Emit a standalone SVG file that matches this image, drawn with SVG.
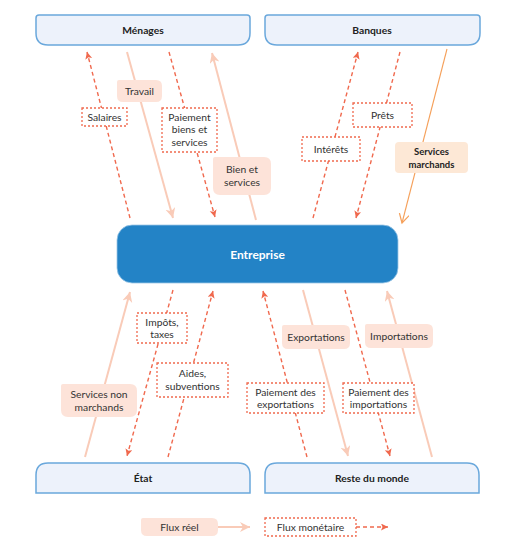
<svg xmlns="http://www.w3.org/2000/svg" width="511" height="557" viewBox="0 0 511 557">
<style>
text{font-family:Lato,"Liberation Sans",sans-serif;fill:#333;font-size:10.3px;text-anchor:middle}
.nb{font-weight:bold;fill:#222;font-size:10.3px}
.node{fill:#edf2fb;stroke:#6aa8dc;stroke-width:1.5}
.real{stroke:#f9cbb8;stroke-width:2;fill:none}
.mon{stroke:#f0694e;stroke-width:1.4;stroke-dasharray:4 3;fill:none}
.rl{fill:#fde3d9}
.ml{fill:#fff;stroke:#f0694e;stroke-width:1.3;stroke-dasharray:2 2}
</style>
<defs>
<marker id="am" markerUnits="userSpaceOnUse" markerWidth="8" markerHeight="8" refX="7" refY="3.5" orient="auto"><path d="M0,0 L7,3.5 L0,7 L1.5,3.5 z" fill="#f0694e"/></marker>
<marker id="ar" markerUnits="userSpaceOnUse" markerWidth="12" markerHeight="12" refX="10" refY="5" orient="auto"><path d="M0,0 L10,5 L0,10 L3,5 z" fill="#f9cbb8"/></marker>
<marker id="ao" markerUnits="userSpaceOnUse" markerWidth="12" markerHeight="12" refX="9" refY="5" orient="auto"><path d="M0,0 L9,5 L0,10" fill="none" stroke="#f5a05a" stroke-width="1.2"/></marker>
</defs>

<g id="connectors">
<path class="mon" d="M130,218 L87,52" marker-end="url(#am)"/>
<path class="real" d="M127,52 L173,218" marker-end="url(#ar)"/>
<path class="mon" d="M169,52 L215,217" marker-end="url(#am)"/>
<path class="real" d="M256,220 L212,53" marker-end="url(#ar)"/>
<path class="mon" d="M313,218 L358,52" marker-end="url(#am)"/>
<path class="mon" d="M400,52 L356,218" marker-end="url(#am)"/>
<path d="M447,49 L402,223" stroke="#f5a05a" stroke-width="1.1" fill="none" marker-end="url(#ao)"/>
<path class="real" d="M85,457 L130,292" marker-end="url(#ar)"/>
<path class="mon" d="M173,290 L127,456" marker-end="url(#am)"/>
<path class="mon" d="M168,457 L213,291" marker-end="url(#am)"/>
<path class="mon" d="M307,457 L263,291" marker-end="url(#am)"/>
<path class="real" d="M303,290 L348,456" marker-end="url(#ar)"/>
<path class="mon" d="M345,290 L390,456" marker-end="url(#am)"/>
<path class="real" d="M432,457 L387,291" marker-end="url(#ar)"/>
<path class="real" d="M218,527 L250,527" marker-end="url(#ar)"/>
<path class="mon" d="M356,527 L388,527" marker-end="url(#am)"/>
</g>

<g id="menages"><path class="node" d="M39,15 H247 Q250,15 250,18 V33 Q250,45 238,45 H48 Q36,45 36,33 V18 Q36,15 39,15 Z"/><text class="nb" x="143" y="34">Ménages</text></g>
<g id="banques"><path class="node" d="M268,15 H477 Q480,15 480,18 V33 Q480,45 468,45 H277 Q265,45 265,33 V18 Q265,15 268,15 Z"/><text class="nb" x="372" y="34">Banques</text></g>
<g id="etat"><path class="node" d="M36,493 V475 Q36,463 48,463 H238 Q250,463 250,475 V493 Z"/><text class="nb" x="143" y="482">État</text></g>
<g id="reste"><path class="node" d="M265,493 V475 Q265,463 277,463 H467 Q479,463 479,475 V493 Z"/><text class="nb" x="372" y="482">Reste du monde</text></g>
<g id="entreprise"><rect x="117" y="225" width="281" height="58" rx="15" fill="#2383c6" stroke="#9cc6e6" stroke-width="0.8"/><text class="nb" x="257.5" y="258.5" style="fill:#fff;font-size:12px">Entreprise</text></g>

<g id="label-travail"><path class="rl" d="M119,80 H156 Q162,80 162,86 V96 Q162,102 156,102 H123 Q117,102 117,96 V82 Q117,80 119,80 Z"/><text x="139.5" y="94.8">Travail</text></g>
<g id="label-bien"><path class="rl" d="M215,157 H264 Q271,157 271,164 V188 Q271,195 264,195 H220 Q213,195 213,188 V159 Q213,157 215,157 Z"/><text x="242" y="173">Bien et</text><text x="242" y="186">services</text></g>
<g id="label-snm"><path class="rl" d="M63,384 H130 Q137,384 137,391 V410 Q137,417 130,417 H68 Q61,417 61,410 V386 Q61,384 63,384 Z"/><text x="99" y="398">Services non</text><text x="99" y="411">marchands</text></g>
<g id="label-export"><path class="rl" d="M284,325 H344 Q350,325 350,331 V343 Q350,349 344,349 H288 Q282,349 282,343 V327 Q282,325 284,325 Z"/><text x="316" y="340.8">Exportations</text></g>
<g id="label-import"><path class="rl" d="M367,324 H427 Q433,324 433,330 V342 Q433,348 427,348 H371 Q365,348 365,342 V326 Q365,324 367,324 Z"/><text x="399" y="339.8">Importations</text></g>
<g id="label-sm"><rect x="395" y="142" width="73" height="31" rx="4" fill="#fde8d6"/><text class="nb" x="431.5" y="155" style="font-size:9.5px">Services</text><text class="nb" x="431.5" y="168" style="font-size:9.5px">marchands</text></g>

<g id="label-salaires"><rect class="ml" x="82" y="108" width="45" height="18"/><text x="104.5" y="120.8">Salaires</text></g>
<g id="label-paiement-bs"><rect class="ml" x="162" y="108" width="55" height="44"/><text x="189.5" y="120.5">Paiement</text><text x="189.5" y="133">biens et</text><text x="189.5" y="145.5">services</text></g>
<g id="label-interets"><rect class="ml" x="302" y="137" width="58" height="24"/><text x="331" y="152.8">Intérêts</text></g>
<g id="label-prets"><rect class="ml" x="353" y="103" width="59" height="24"/><text x="382.5" y="118.8">Prêts</text></g>
<g id="label-impots"><rect class="ml" x="137" y="313" width="50" height="30"/><text x="162" y="325.5">Impôts,</text><text x="162" y="338">taxes</text></g>
<g id="label-aides"><rect class="ml" x="157" y="363" width="71" height="34"/><text x="192.5" y="377">Aides,</text><text x="192.5" y="390">subventions</text></g>
<g id="label-pexp"><rect class="ml" x="247" y="383" width="77" height="30"/><text x="285.5" y="395.5">Paiement des</text><text x="285.5" y="408">exportations</text></g>
<g id="label-pimp"><rect class="ml" x="343" y="383" width="71" height="30"/><text x="378.5" y="395.5">Paiement des</text><text x="378.5" y="408">importations</text></g>

<g id="legend-reel"><path class="rl" d="M143,518 H212 Q218,518 218,524 V530 Q218,536 212,536 H147 Q141,536 141,530 V520 Q141,518 143,518 Z"/><text x="179.5" y="530.8">Flux réel</text></g>
<g id="legend-mon"><rect class="ml" x="265" y="518" width="91" height="18"/><text x="310.5" y="530.8">Flux monétaire</text></g>
</svg>
